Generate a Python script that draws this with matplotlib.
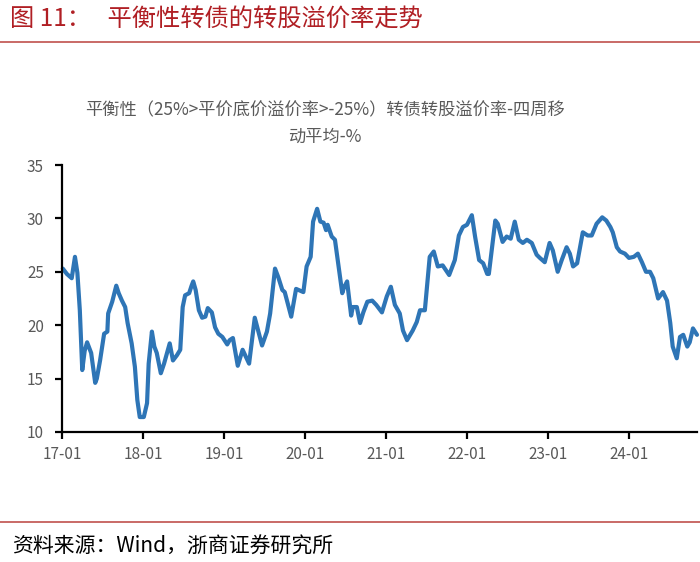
import matplotlib
matplotlib.use("Agg")
import matplotlib.pyplot as plt
from matplotlib.lines import Line2D

plt.rcParams['font.family'] = ['Noto Sans CJK SC', 'DejaVu Sans']

# decimal-year positions of the weekly series
t = [2017.01, 2017.06, 2017.12, 2017.16, 2017.19, 2017.22, 2017.25, 2017.28, 2017.31, 2017.36,
     2017.41, 2017.43, 2017.47, 2017.52, 2017.56, 2017.57, 2017.62, 2017.67, 2017.70, 2017.74,
     2017.78, 2017.81, 2017.86, 2017.90, 2017.93, 2017.96, 2018.01, 2018.05, 2018.07, 2018.11,
     2018.14, 2018.17, 2018.22, 2018.26, 2018.30, 2018.33, 2018.37, 2018.42, 2018.46, 2018.49,
     2018.52, 2018.57, 2018.60, 2018.62, 2018.65, 2018.69, 2018.73, 2018.77, 2018.80, 2018.85,
     2018.89, 2018.93, 2018.98, 2019.04, 2019.07, 2019.11, 2019.17, 2019.23, 2019.31, 2019.38,
     2019.47, 2019.53, 2019.57, 2019.63, 2019.67, 2019.72, 2019.75, 2019.83, 2019.89, 2019.98,
     2020.02, 2020.07, 2020.10, 2020.15, 2020.19, 2020.23, 2020.26, 2020.28, 2020.33, 2020.37,
     2020.41, 2020.46, 2020.48, 2020.52, 2020.57, 2020.59, 2020.64, 2020.68, 2020.72, 2020.77,
     2020.83, 2020.88, 2020.95, 2021.01, 2021.06, 2021.11, 2021.17, 2021.21, 2021.26, 2021.33,
     2021.38, 2021.42, 2021.48, 2021.54, 2021.59, 2021.64, 2021.70, 2021.78, 2021.85, 2021.90,
     2021.95, 2022.00, 2022.06, 2022.10, 2022.15, 2022.20, 2022.25, 2022.27, 2022.35, 2022.38,
     2022.44, 2022.49, 2022.54, 2022.59, 2022.64, 2022.69, 2022.74, 2022.80, 2022.86, 2022.90,
     2022.96, 2023.02, 2023.06, 2023.12, 2023.17, 2023.23, 2023.27, 2023.31, 2023.36, 2023.43,
     2023.49, 2023.54, 2023.60, 2023.67, 2023.72, 2023.77, 2023.80, 2023.85, 2023.89, 2023.95,
     2024.00, 2024.06, 2024.11, 2024.16, 2024.21, 2024.26, 2024.30, 2024.36, 2024.42, 2024.47,
     2024.51, 2024.54, 2024.59, 2024.63, 2024.67, 2024.72, 2024.75, 2024.79, 2024.84]

premium = [25.3, 24.8, 24.4, 26.4, 24.9, 21.4, 15.8, 17.6, 18.4, 17.4,
           14.6, 15.0, 16.7, 19.2, 19.4, 21.1, 22.2, 23.7, 23.0, 22.3,
           21.7, 20.2, 18.3, 16.1, 13.0, 11.4, 11.4, 12.7, 16.4, 19.4,
           18.0, 17.4, 15.5, 16.4, 17.5, 18.3, 16.7, 17.2, 17.7, 21.7,
           22.8, 23.0, 23.7, 24.1, 23.3, 21.4, 20.7, 20.8, 21.6, 21.2,
           19.8, 19.2, 18.9, 18.2, 18.6, 18.8, 16.2, 17.7, 16.4, 20.7,
           18.1, 19.4, 21.1, 25.3, 24.5, 23.3, 23.1, 20.8, 23.4, 23.1,
           25.5, 26.4, 29.7, 30.9, 29.7, 29.6, 28.9, 29.4, 28.3, 28.0,
           25.8, 23.0, 23.5, 24.1, 20.9, 21.7, 21.7, 20.2, 21.2, 22.2,
           22.3, 21.9, 21.2, 22.7, 23.6, 21.9, 21.1, 19.5, 18.6, 19.5,
           20.3, 21.4, 21.4, 26.4, 26.9, 25.5, 25.6, 24.7, 26.1, 28.4,
           29.2, 29.4, 30.3, 28.3, 26.1, 25.8, 24.8, 24.8, 29.8, 29.5,
           27.8, 28.3, 28.1, 29.7, 28.0, 27.7, 28.0, 27.7, 26.6, 26.3,
           25.9, 27.7, 27.0, 25.0, 26.1, 27.3, 26.7, 25.5, 25.8, 28.7,
           28.4, 28.4, 29.5, 30.1, 29.8, 29.2, 28.7, 27.3, 26.9, 26.7,
           26.3, 26.4, 26.7, 25.9, 25.0, 25.0, 24.4, 22.5, 23.1, 22.3,
           20.2, 18.0, 16.9, 18.9, 19.1, 18.0, 18.4, 19.7, 19.1]

tick_years = [2017, 2018, 2019, 2020, 2021, 2022, 2023, 2024]
tick_labels = ['17-01', '18-01', '19-01', '20-01', '21-01', '22-01', '23-01', '24-01']
y_ticks = [10, 15, 20, 25, 30, 35]

fig = plt.figure(figsize=(7.0, 5.62), dpi=100)
W, H = 700, 562

ax = fig.add_axes([62 / W, 1 - 432 / H, (697 - 62) / W, (432 - 165) / H])
ax.plot(t, premium, color='#2E75B6', lw=3.0, solid_joinstyle='round', solid_capstyle='round',
        clip_on=False)
ax.set_xlim(2017.0, 2024.84)
ax.set_ylim(10, 35)
ax.set_xticks(tick_years)
ax.set_xticklabels(tick_labels)
ax.set_yticks(y_ticks)
for s in ['top', 'right']:
    ax.spines[s].set_visible(False)
for s in ['left', 'bottom']:
    ax.spines[s].set_linewidth(1.6)
    ax.spines[s].set_color('black')
ax.tick_params(axis='both', direction='out', length=5, width=1.6, color='black',
               labelsize=11, labelcolor='#595959')
ax.tick_params(axis='y', pad=8)
ax.tick_params(axis='x', pad=5)

# chart title
fig.text(325 / W, 1 - 110 / H, '平衡性（25%>平价底价溢价率>-25%）转债转股溢价率-四周移',
         ha='center', va='center', fontsize=12.4, color='#595959')
fig.text(325 / W, 1 - 137 / H, '动平均-%', ha='center', va='center', fontsize=12.4, color='#595959')

# header
fig.text(10 / W, 1 - 20 / H, '图 11：   平衡性转债的转股溢价率走势', ha='left', va='center',
         fontsize=17.5, color='#B01F24')
fig.add_artist(Line2D([0, 1], [1 - 42 / H, 1 - 42 / H], color='#C0504D', lw=1.2,
                      transform=fig.transFigure))
# footer
fig.add_artist(Line2D([0, 1], [1 - 522 / H, 1 - 522 / H], color='#C0504D', lw=1.2,
                      transform=fig.transFigure))
fig.text(12 / W, 1 - 547 / H, '资料来源：Wind，浙商证券研究所', ha='left', va='center',
         fontsize=15, color='black')

fig.savefig('out.png', dpi=100)
